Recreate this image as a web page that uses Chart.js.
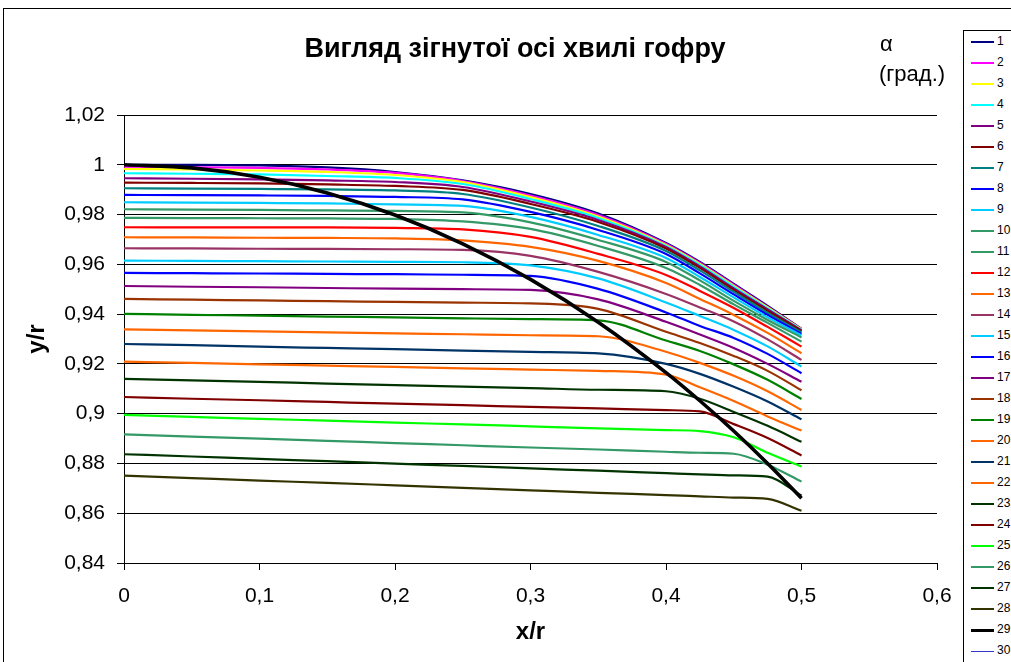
<!DOCTYPE html>
<html><head><meta charset="utf-8">
<script src="https://cdn.jsdelivr.net/npm/chart.js@4/dist/chart.umd.min.js"></script>
<style>
html,body{margin:0;padding:0;background:#fff;width:1011px;height:662px;overflow:hidden;font-family:"Liberation Sans",Arial,sans-serif;}
#frame{position:absolute;left:3px;top:8px;width:1100px;height:700px;border-left:1px solid #000;border-top:1px solid #000;}
#c{position:absolute;left:0;top:0;}
#title{position:absolute;left:515px;top:33px;transform:translateX(-50%);font-weight:bold;font-size:27px;white-space:nowrap;color:#000;}
#alpha{position:absolute;left:880px;top:31px;font-size:22px;color:#000;}
#grad{position:absolute;left:879px;top:61px;font-size:22px;color:#000;}
#legend{position:absolute;left:963px;top:30px;width:70px;height:660px;border:1px solid #000;background:#fff;}
.it{position:absolute;left:0;width:70px;height:21px;}
.ln{position:absolute;left:7px;width:23px;}
.lb{position:absolute;left:33px;top:3px;font-size:12px;line-height:14px;color:#000;}
</style></head>
<body>
<div id="frame"></div>
<canvas id="c" width="1011" height="662"></canvas>
<div id="title">Вигляд зігнутої осі хвилі гофру</div>
<div id="alpha">α</div>
<div id="grad">(град.)</div>
<div id="legend"></div>
<script>
const xValues = [0, 0.05, 0.1, 0.15, 0.2, 0.25, 0.3, 0.35, 0.4, 0.425, 0.45, 0.475, 0.5];
const s1 = [1.0000, 0.99996, 0.99972, 0.99892, 0.99711, 0.99374, 0.98827, 0.98044, 0.96860, 0.96097, 0.95213, 0.94329, 0.93406];
const s2 = [0.99924, 0.99904, 0.99872, 0.99811, 0.99671, 0.99349, 0.98767, 0.97984, 0.96819, 0.96056, 0.95173, 0.94289, 0.93394];
const s3 = [0.99831, 0.99811, 0.99771, 0.99711, 0.99590, 0.99309, 0.98707, 0.97924, 0.96779, 0.96016, 0.95133, 0.94269, 0.93382];
const s4 = [0.99659, 0.99639, 0.99611, 0.99550, 0.99470, 0.99229, 0.98627, 0.97864, 0.96739, 0.95976, 0.95093, 0.94229, 0.93366];
const s5 = [0.99458, 0.99438, 0.99410, 0.99370, 0.99309, 0.99108, 0.98526, 0.97783, 0.96699, 0.95916, 0.95032, 0.94189, 0.93346];
const s6 = [0.99281, 0.99269, 0.99249, 0.99209, 0.99149, 0.98988, 0.98426, 0.97703, 0.96639, 0.95856, 0.94972, 0.94129, 0.93325];
const s7 = [0.99056, 0.99044, 0.99028, 0.99008, 0.98968, 0.98827, 0.98285, 0.97542, 0.96538, 0.95755, 0.94892, 0.94048, 0.93265];
const s8 = [0.98787, 0.98779, 0.98767, 0.98747, 0.98707, 0.98607, 0.98105, 0.97382, 0.96418, 0.95635, 0.94791, 0.93968, 0.93205];
const s9 = [0.98494, 0.98482, 0.98466, 0.98446, 0.98406, 0.98345, 0.97904, 0.97181, 0.96257, 0.95494, 0.94671, 0.93868, 0.93145];
const s10 = [0.98213, 0.98201, 0.98185, 0.98165, 0.98145, 0.98084, 0.97683, 0.96980, 0.96097, 0.95354, 0.94530, 0.93767, 0.93064];
const s11 = [0.97864, 0.97860, 0.97852, 0.97843, 0.97823, 0.97723, 0.97422, 0.96739, 0.95856, 0.95173, 0.94390, 0.93647, 0.92896];
const s12 = [0.97490, 0.97486, 0.97482, 0.97482, 0.97462, 0.97402, 0.97100, 0.96418, 0.95574, 0.94932, 0.94249, 0.93486, 0.92695];
const s13 = [0.97088, 0.97080, 0.97068, 0.97060, 0.97040, 0.96960, 0.96699, 0.96137, 0.95253, 0.94611, 0.93968, 0.93245, 0.92430];
const s14 = [0.96647, 0.96639, 0.96627, 0.96619, 0.96607, 0.96578, 0.96337, 0.95695, 0.94811, 0.94269, 0.93707, 0.92984, 0.92161];
const s15 = [0.96149, 0.96137, 0.96125, 0.96113, 0.96097, 0.96084, 0.95956, 0.95434, 0.94470, 0.93928, 0.93366, 0.92703, 0.91892];
const s16 = [0.95655, 0.95643, 0.95631, 0.95615, 0.95603, 0.95582, 0.95534, 0.95012, 0.94068, 0.93526, 0.93044, 0.92402, 0.91627];
const s17 = [0.9513, 0.9510, 0.9508, 0.9505, 0.9502, 0.9500, 0.9497, 0.9459, 0.9369, 0.9318, 0.9264, 0.9200, 0.9128];
const s18 = [0.9461, 0.9458, 0.9455, 0.9452, 0.9449, 0.9446, 0.9443, 0.9421, 0.9329, 0.9284, 0.9232, 0.9172, 0.9094];
const s19 = [0.9401, 0.9397, 0.9394, 0.9390, 0.9387, 0.9383, 0.9380, 0.9375, 0.9294, 0.9252, 0.9198, 0.9136, 0.9059];
const s20 = [0.9339, 0.9335, 0.9331, 0.9327, 0.9323, 0.9319, 0.9315, 0.9311, 0.9249, 0.9204, 0.9152, 0.9090, 0.9015];
const s21 = [0.9280, 0.9275, 0.9269, 0.9264, 0.9259, 0.9253, 0.9248, 0.9242, 0.9200, 0.9160, 0.9108, 0.9049, 0.8977];
const s22 = [0.9209, 0.9204, 0.9198, 0.9193, 0.9188, 0.9182, 0.9177, 0.9172, 0.9157, 0.9106, 0.9051, 0.8989, 0.8932];
const s23 = [0.9140, 0.9134, 0.9128, 0.9121, 0.9115, 0.9109, 0.9103, 0.9096, 0.9090, 0.9060, 0.9007, 0.8951, 0.8887];
const s24 = [0.9067, 0.9060, 0.9054, 0.9047, 0.9040, 0.9034, 0.9027, 0.9021, 0.9014, 0.9009, 0.8958, 0.8902, 0.8832];
const s25 = [0.8995, 0.8987, 0.8979, 0.8972, 0.8964, 0.8957, 0.8949, 0.8941, 0.8934, 0.8930, 0.8905, 0.8843, 0.8788];
const s26 = [0.8917, 0.8908, 0.8900, 0.8891, 0.8882, 0.8873, 0.8864, 0.8856, 0.8847, 0.8843, 0.8839, 0.8795, 0.8727];
const s27 = [0.8837, 0.8828, 0.8818, 0.8809, 0.8799, 0.8790, 0.8780, 0.8771, 0.8761, 0.8756, 0.8752, 0.8747, 0.8671];
const s28 = [0.8751, 0.8741, 0.8731, 0.8722, 0.8712, 0.8702, 0.8692, 0.8682, 0.8673, 0.8668, 0.8663, 0.8658, 0.8610];
const s29 = [1.0000, 0.99875, 0.99499, 0.98869, 0.97980, 0.96825, 0.95394, 0.93675, 0.91652, 0.90519, 0.89303, 0.87999, 0.86603];
const s30 = [];
const seriesNames = ['1','2','3','4','5','6','7','8','9','10','11','12','13','14','15','16','17','18','19','20','21','22','23','24','25','26','27','28','29','30'];
const seriesColors = ['#000080','#FF00FF','#FFFF00','#00FFFF','#800080','#800000','#008080','#0000FF','#00CCFF','#339966',
  '#339966','#FF0000','#FF6600','#993366','#00CCFF','#0000FF','#800080','#993300','#008000','#FF6600',
  '#003366','#FF6600','#003300','#800000','#00FF00','#339966','#003300','#333300','#000000','#3333CC'];
const seriesWidths = [2.2,2.2,2.2,2.2,2.2,2.2,2.2,2.2,2.2,2.2,2.2,2.2,2.2,2.2,2.2,2.2,2.2,2.2,2.2,2.2,2.2,2.2,2.2,2.2,2.2,2.2,2.2,2.2,3.6,1];
const yTicks = [0.84, 0.86, 0.88, 0.9, 0.92, 0.94, 0.96, 0.98, 1, 1.02];
const xTicks = [0, 0.1, 0.2, 0.3, 0.4, 0.5, 0.6];

const allSeries = [s1,s2,s3,s4,s5,s6,s7,s8,s9,s10,s11,s12,s13,s14,s15,s16,s17,s18,s19,s20,s21,s22,s23,s24,s25,s26,s27,s28,s29,s30];
const fmt = v => String(Number(v.toFixed(2))).replace('.', ',');

const datasets = allSeries.map((s, i) => ({
  label: seriesNames[i],
  data: s.map((y, j) => ({x: xValues[j], y: y})),
  borderColor: seriesColors[i],
  backgroundColor: seriesColors[i],
  borderWidth: seriesWidths[i],
  pointRadius: 0,
  fill: false,
  cubicInterpolationMode: 'monotone',
  order: -i
}));

const FAM = '"Liberation Sans", Arial, sans-serif';
const TICKFONT = {family: FAM, size: 21};
const AXTITLE = {family: FAM, size: 24, weight: 'bold'};

new Chart(document.getElementById('c'), {
  type: 'line',
  data: {datasets},
  options: {
    responsive: false,
    animation: false,
    devicePixelRatio: 1,
    layout: {padding: {left: 0, top: 115, right: 74, bottom: 0}},
    plugins: {legend: {display: false}, title: {display: false}, tooltip: {enabled: false}},
    scales: {
      x: {
        type: 'linear', min: 0, max: 0.6,
        afterFit: s => { s.height = 99; },
        afterBuildTicks: s => { s.ticks = xTicks.map(v => ({value: v})); },
        ticks: {callback: v => fmt(v), color: '#000', font: TICKFONT, padding: 14, maxRotation: 0},
        grid: {drawOnChartArea: false, drawTicks: true, tickLength: 7, color: '#000', lineWidth: 1},
        border: {color: '#000', width: 1},
        title: {display: true, text: 'x/r', color: '#000', font: AXTITLE, padding: {top: 0, bottom: 15}}
      },
      y: {
        type: 'linear', min: 0.84, max: 1.02,
        afterFit: s => { s.width = 124; },
        afterBuildTicks: s => { s.ticks = yTicks.map(v => ({value: v})); },
        ticks: {callback: v => fmt(v), color: '#000', font: TICKFONT, padding: 12},
        grid: {drawOnChartArea: true, drawTicks: true, tickLength: 7, color: '#000', lineWidth: 1},
        border: {color: '#000', width: 1},
        title: {display: true, text: 'y/r', color: '#000', font: AXTITLE, padding: {top: 23, bottom: 0}}
      }
    }
  }
});

const lg = document.getElementById('legend');
seriesNames.forEach((n, i) => {
  const it = document.createElement('div');
  it.className = 'it';
  it.style.top = (21 * i) + 'px';
  const ln = document.createElement('div');
  ln.className = 'ln';
  const w = seriesWidths[i] > 3 ? 3 : (seriesWidths[i] < 1.5 ? 1 : 2);
  ln.style.height = w + 'px';
  ln.style.top = (11 - w / 2) + 'px';
  ln.style.background = seriesColors[i];
  const lb = document.createElement('div');
  lb.className = 'lb';
  lb.textContent = n;
  it.appendChild(ln); it.appendChild(lb);
  lg.appendChild(it);
});
</script>
</body></html>
